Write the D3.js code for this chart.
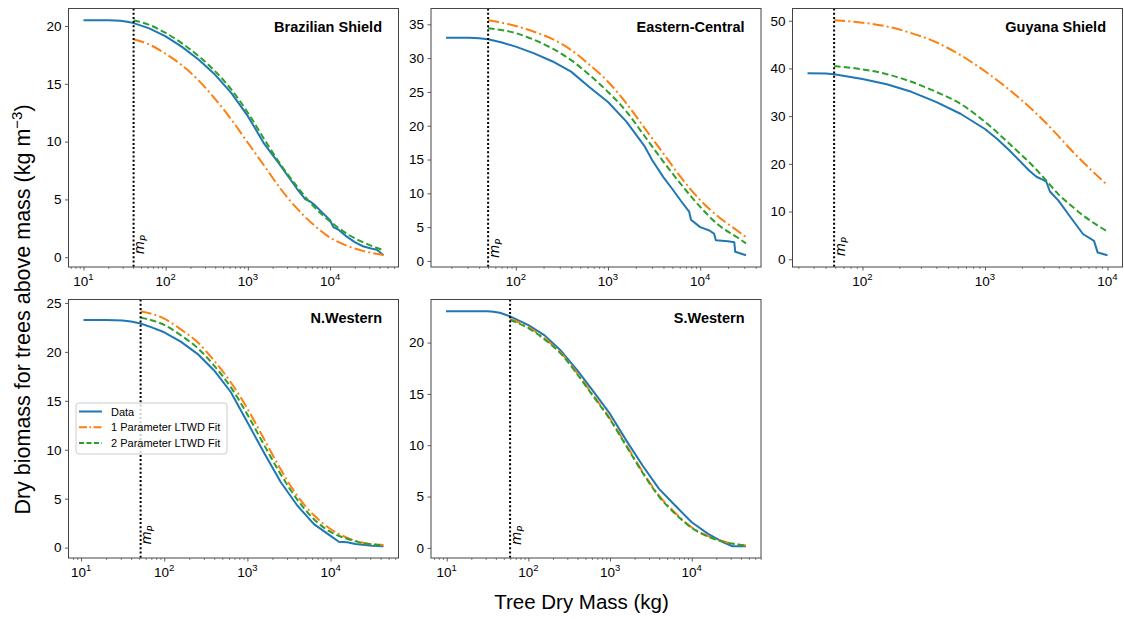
<!DOCTYPE html>
<html><head><meta charset="utf-8">
<script src="https://cdn.jsdelivr.net/npm/d3@7"></script>
<style>
body{margin:0;background:#fff}
svg{display:block}
text{font-family:"Liberation Sans",Arial,sans-serif;fill:#000}
</style>
</head><body>
<svg id="chart" width="1124" height="619"></svg>
<script>
// ---------------- data ----------------
const regionNames = ["Brazilian Shield", "Eastern-Central", "Guyana Shield", "N.Western", "S.Western"];
const mP = [40.7, 50.1, 58.7, 52, 59.7];
const legendLabels = ["Data", "1 Parameter LTWD Fit", "2 Parameter LTWD Fit"];
const xLabel = "Tree Dry Mass (kg)";

// Brazilian Shield
const bsDataMass = [10, 20, 28.2, 35.5, 40.7, 63.1, 100, 158, 251, 398, 631, 1000, 1585, 2512, 3981, 5012, 5623, 6310, 7943, 10000, 10965, 12589, 15849, 19953, 25119, 31623, 37154, 44700];
const bsDataVal  = [20.5, 20.5, 20.45, 20.35, 20.25, 19.8, 19.1, 18.2, 17.1, 15.8, 14.2, 12.2, 9.8, 7.9, 5.9, 5.0, 4.85, 4.6, 3.9, 3.2, 2.6, 2.4, 1.8, 1.3, 0.95, 0.75, 0.65, 0.17];
const bsFitMass  = [40.7, 63.1, 100, 158, 251, 398, 631, 1000, 1585, 2512, 3981, 6310, 10000, 15849, 25119, 44700];
const bsFit1     = [18.85, 18.4, 17.6, 16.6, 15.3, 13.7, 11.9, 9.9, 7.9, 5.9, 4.2, 2.8, 1.7, 1.0, 0.55, 0.2];
const bsFit2     = [20.5, 20.1, 19.4, 18.5, 17.4, 16.1, 14.5, 12.5, 10.2, 8.0, 6.1, 4.4, 3.1, 2.05, 1.3, 0.6];

// Eastern-Central
const ecDataMass = [17.5, 31.6, 39.8, 50.1, 70.8, 100, 158, 251, 398, 631, 1000, 1585, 2512, 3020, 3981, 5012, 6166, 7586, 7943, 10000, 12589, 14125, 14791, 19953, 23442, 23988, 31400];
const ecDataVal  = [33.0, 33.0, 32.95, 32.8, 32.3, 31.7, 30.7, 29.5, 28.0, 25.7, 23.5, 20.6, 16.9, 14.9, 12.4, 10.6, 8.9, 7.3, 6.1, 5.0, 4.5, 4.05, 3.06, 2.9, 2.75, 1.35, 0.84];
const ecFitMass  = [50.1, 100, 158, 251, 398, 631, 1000, 1585, 2512, 3981, 6310, 10000, 15849, 25119, 31400];
const ecFit1     = [35.6, 34.75, 33.9, 32.8, 31.2, 29.0, 26.5, 23.3, 19.6, 15.9, 12.2, 9.0, 6.5, 4.5, 3.5];
const ecFit2     = [34.4, 33.7, 32.7, 31.4, 29.7, 27.5, 25.0, 22.1, 18.4, 14.7, 11.2, 8.0, 5.3, 3.5, 2.6];

// Guyana Shield
const gsDataMass = [35.6, 50.1, 58.7, 100, 158, 251, 398, 631, 1000, 1259, 1585, 2291, 2630, 2951, 3162, 3388, 3981, 5012, 6310, 7762, 8318, 10000];
const gsDataVal  = [39.0, 38.95, 38.8, 37.8, 36.7, 35.1, 33.0, 30.5, 27.3, 25.2, 22.8, 18.6, 17.3, 16.7, 16.3, 14.2, 12.3, 8.75, 5.3, 3.85, 1.4, 0.84];
const gsFitMass  = [58.7, 100, 158, 251, 398, 631, 1000, 1585, 2512, 3162, 3981, 5012, 6310, 7943, 10000];
const gsFit1     = [50.1, 49.6, 48.8, 47.4, 45.5, 42.8, 39.4, 35.5, 31.0, 28.5, 25.8, 23.0, 20.4, 17.9, 15.5];
const gsFit2     = [40.5, 39.8, 38.8, 37.2, 35.1, 32.6, 28.8, 24.2, 19.3, 16.5, 13.6, 11.3, 9.2, 7.4, 5.8];

// N.Western
const nwDataMass = [10.7, 20, 31.6, 39.8, 52, 70.8, 100, 158, 251, 398, 631, 1000, 1585, 2512, 3981, 6310, 10000, 12589, 15849, 19953, 31623, 43300];
const nwDataVal  = [23.26, 23.25, 23.2, 23.1, 22.9, 22.5, 22.0, 21.05, 19.8, 18.1, 15.9, 12.8, 9.7, 6.7, 4.3, 2.4, 1.2, 0.6, 0.55, 0.37, 0.2, 0.14];
const nwFitMass  = [52, 100, 158, 251, 398, 631, 1000, 1585, 2512, 3981, 6310, 10000, 15849, 25119, 43300];
const nwFit1     = [24.15, 23.4, 22.3, 21.0, 19.1, 16.9, 14.2, 11.1, 8.0, 5.3, 3.3, 1.9, 1.0, 0.48, 0.27];
const nwFit2     = [23.5, 22.75, 21.7, 20.4, 18.6, 16.4, 13.6, 10.5, 7.5, 4.9, 2.9, 1.6, 0.9, 0.45, 0.27];

// S.Western
const swDataMass = [9.8, 20, 31.6, 37.2, 44.7, 59.7, 100, 158, 251, 398, 631, 1000, 1585, 2512, 3981, 6310, 10000, 15849, 25119, 31623, 46200];
const swDataVal  = [23.05, 23.05, 23.04, 23.0, 22.9, 22.56, 21.7, 20.7, 19.2, 17.3, 15.2, 13.05, 10.45, 8.0, 5.75, 4.1, 2.5, 1.36, 0.5, 0.16, 0.16];
const swFitMass  = [59.7, 100, 158, 251, 398, 631, 1000, 1585, 2512, 3981, 6310, 10000, 15849, 25119, 46200];
const swFit1     = [22.3, 21.5, 20.4, 19.0, 17.0, 14.8, 12.6, 10.0, 7.4, 5.1, 3.4, 2.0, 1.15, 0.6, 0.23];
const swFit2     = [22.2, 21.4, 20.3, 18.9, 16.9, 14.7, 12.5, 9.9, 7.3, 5.0, 3.3, 1.95, 1.1, 0.58, 0.22];

// tick labels
const yTicksBS = [0, 5, 10, 15, 20];
const yTicksEC = [0, 5, 10, 15, 20, 25, 30, 35];
const yTicksGS = [0, 10, 20, 30, 40, 50];
const yTicksNW = [0, 5, 10, 15, 20, 25];
const yTicksSW = [0, 5, 10, 15, 20];
const xTickExponents = [1, 2, 3, 4];

// ---------------- layout ----------------
const svg = d3.select("#chart");
const colX = [68.5, 431, 792.5];
const rowY = [8.5, 299.5];
const PW = 330, PH = 258.5;
const colors = {data: "#1f77b4", fit1: "#ff7f0e", fit2: "#2ca02c"};

const panels = [
  {name: regionNames[0], mp: mP[0], dm: bsDataMass, dv: bsDataVal, fm: bsFitMass, f1: bsFit1, f2: bsFit2, yt: yTicksBS, c: 0, r: 0},
  {name: regionNames[1], mp: mP[1], dm: ecDataMass, dv: ecDataVal, fm: ecFitMass, f1: ecFit1, f2: ecFit2, yt: yTicksEC, c: 1, r: 0},
  {name: regionNames[2], mp: mP[2], dm: gsDataMass, dv: gsDataVal, fm: gsFitMass, f1: gsFit1, f2: gsFit2, yt: yTicksGS, c: 2, r: 0},
  {name: regionNames[3], mp: mP[3], dm: nwDataMass, dv: nwDataVal, fm: nwFitMass, f1: nwFit1, f2: nwFit2, yt: yTicksNW, c: 0, r: 1, legend: true},
  {name: regionNames[4], mp: mP[4], dm: swDataMass, dv: swDataVal, fm: swFitMass, f1: swFit1, f2: swFit2, yt: yTicksSW, c: 1, r: 1}
];

panels.forEach(p => {
  const x0 = colX[p.c], y0 = rowY[p.r];
  const g = svg.append("g").attr("transform", `translate(${x0},${y0})`);
  const allM = p.dm.concat(p.fm);
  const allV = p.dv.concat(p.f1, p.f2);
  const lmin = Math.log10(d3.min(allM)), lmax = Math.log10(d3.max(allM));
  const lp = (lmax - lmin) * 0.05;
  const vmin = d3.min(allV), vmax = d3.max(allV);
  const vp = (vmax - vmin) * 0.05;
  const x = d3.scaleLog().domain([Math.pow(10, lmin - lp), Math.pow(10, lmax + lp)]).range([0, PW]);
  const y = d3.scaleLinear().domain([vmin - vp, vmax + vp]).range([PH, 0]);

  // x axis: major ticks with 10^n labels, minor ticks
  const majors = xTickExponents.map(e => Math.pow(10, e)).filter(v => v >= x.domain()[0] && v <= x.domain()[1]);
  const minors = [];
  for (let e = 0; e <= 4; e++) for (let k = 2; k <= 9; k++) {
    const v = k * Math.pow(10, e);
    if (v >= x.domain()[0] && v <= x.domain()[1]) minors.push(v);
  }
  const xAxis = d3.axisBottom(x).tickValues(majors).tickSize(3.5).tickPadding(3).tickFormat("");
  const xg = g.append("g").attr("transform", `translate(0,${PH})`).call(xAxis);
  xg.select(".domain").remove();
  xg.selectAll(".tick line").attr("stroke", "#333").attr("stroke-width", 0.8);
  const xMinor = d3.axisBottom(x).tickValues(minors).tickSize(2).tickFormat("");
  const xmg = g.append("g").attr("transform", `translate(0,${PH})`).call(xMinor);
  xmg.select(".domain").remove();
  xmg.selectAll(".tick line").attr("stroke", "#333").attr("stroke-width", 0.6);
  majors.forEach(v => {
    const t = g.append("text").attr("x", x(v)).attr("y", PH + 18.5)
      .attr("text-anchor", "middle").style("font-size", "13.5px");
    t.append("tspan").text("10");
    t.append("tspan").attr("dy", -6).style("font-size", "9.5px").text(Math.round(Math.log10(v)));
  });

  // y axis
  const yAxis = d3.axisLeft(y).tickValues(p.yt).tickSize(3.5).tickPadding(3.5);
  const yg = g.append("g").call(yAxis);
  yg.select(".domain").remove();
  yg.selectAll(".tick line").attr("stroke", "#333").attr("stroke-width", 0.8);
  yg.selectAll(".tick text").style("font-size", "13.5px").style("font-family", "'Liberation Sans',Arial,sans-serif").attr("fill", "#000");

  // lines
  const line = d3.line().x(d => x(d[0])).y(d => y(d[1]));
  const smooth = d3.line().x(d => x(d[0])).y(d => y(d[1])).curve(d3.curveMonotoneX);
  g.append("path").datum(d3.zip(p.dm, p.dv)).attr("d", line)
    .attr("fill", "none").attr("stroke", colors.data).attr("stroke-width", 2).attr("stroke-linejoin", "round");
  g.append("path").datum(d3.zip(p.fm, p.f1)).attr("d", smooth)
    .attr("fill", "none").attr("stroke", colors.fit1).attr("stroke-width", 2).attr("stroke-dasharray", "11,3.2,2,3.2");
  g.append("path").datum(d3.zip(p.fm, p.f2)).attr("d", smooth)
    .attr("fill", "none").attr("stroke", colors.fit2).attr("stroke-width", 2).attr("stroke-dasharray", "6.5,3.2");

  // m_P line and label
  g.append("line").attr("x1", x(p.mp)).attr("x2", x(p.mp)).attr("y1", 0).attr("y2", PH)
    .attr("stroke", "#000").attr("stroke-width", 2).attr("stroke-dasharray", "2,2.2");
  const lx = x(p.mp) + 10.5, ly = y(0) - 3;
  const mt = g.append("text").attr("transform", `translate(${lx},${ly}) rotate(-90)`)
    .style("font-family", "'DejaVu Sans',sans-serif").style("font-style", "italic").style("font-size", "13.5px");
  mt.append("tspan").text("m");
  mt.append("tspan").attr("dy", 3).style("font-size", "9.5px").text("P");

  // frame
  g.append("rect").attr("x", 0).attr("y", 0).attr("width", PW).attr("height", PH)
    .attr("fill", "none").attr("stroke", "#444").attr("stroke-width", 1);

  // title
  g.append("text").attr("x", PW - 16.5).attr("y", 23).attr("text-anchor", "end")
    .style("font-weight", "bold").style("font-size", "14.5px").text(p.name);

  // legend
  if (p.legend) {
    const lg = g.append("g").attr("transform", "translate(7.5,103.5)");
    lg.append("rect").attr("width", 151).attr("height", 51).attr("rx", 3)
      .attr("fill", "#fff").attr("fill-opacity", 0.8).attr("stroke", "#ccc").attr("stroke-width", 1);
    const styles = [[colors.data, null], [colors.fit1, "8,2.5,1.5,2.5"], [colors.fit2, "5,2.5"]];
    legendLabels.forEach((lab, i) => {
      const yy = 8.5 + i * 15.7;
      lg.append("line").attr("x1", 3).attr("x2", 26).attr("y1", yy).attr("y2", yy)
        .attr("stroke", styles[i][0]).attr("stroke-width", 2)
        .attr("stroke-dasharray", styles[i][1]);
      lg.append("text").attr("x", 35).attr("y", yy + 4).style("font-size", "11px").text(lab);
    });
  }
});

// axis labels
svg.append("text").attr("x", 581.5).attr("y", 608.5).attr("text-anchor", "middle")
  .style("font-size", "20.5px").text(xLabel);
const yl = svg.append("text").attr("transform", "translate(30,309.5) rotate(-90)")
  .attr("text-anchor", "middle").style("font-size", "21.5px");
yl.append("tspan").text("Dry biomass for trees above mass (kg m");
yl.append("tspan").attr("dy", -8.5).style("font-size", "15px").text("\u22123");
yl.append("tspan").attr("dy", 8.5).text(")");
</script>
</body></html>
